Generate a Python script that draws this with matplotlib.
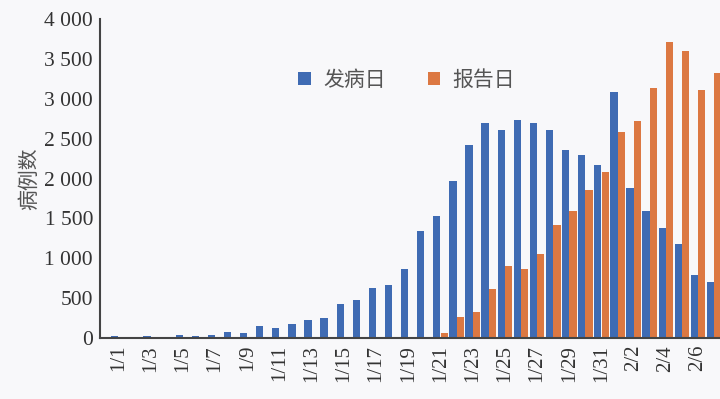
import numpy as np
import matplotlib
matplotlib.use("Agg")
import matplotlib.pyplot as plt

# daily case counts, 1/1 to 2/7

dates = [f"1/{d}" for d in range(1, 32)] + [f"2/{d}" for d in range(1, 8)]

onset = [20, 12, 22, 12, 35, 22, 32, 75, 58, 150,
         128, 175, 225, 250, 425, 475, 630, 665, 860, 1340,
         1530, 1970, 2420, 2695, 2608, 2733, 2695, 2608, 2358, 2296,
         2170, 3087, 1880, 1590, 1383, 1183, 787, 705]

report = [0, 0, 0, 0, 0, 0, 0, 0, 0, 0,
          0, 0, 0, 0, 0, 0, 0, 0, 0, 0,
          67, 258, 330, 612, 908, 870, 1050, 1420, 1595, 1858,
          2080, 2580, 2717, 3133, 3717, 3600, 3108, 3320]

y_ticks = [0, 500, 1000, 1500, 2000, 2500, 3000, 3500, 4000]
y_labels = ["0", "500", "1 000", "1 500", "2 000", "2 500", "3 000", "3 500", "4 000"]

#%%

blue = "#3f6bb3"
orange = "#dc7842"
bg = "#f8f8fa"

fig = plt.figure(figsize=(7.2, 3.99), dpi=100, facecolor=bg)
ax = fig.add_axes([100/720, 61/399, 620/720, 319/399])
ax.set_facecolor(bg)

x = np.arange(len(dates))
w = 0.45
ax.bar(x - 0.23, onset, width=w, color=blue, label="发病日")
ax.bar(x + 0.23, report, width=w, color=orange, label="报告日")

ax.set_xlim(-1.15, (720 - 118.5) / 16.1)
ax.set_ylim(0, 4000)

ax.set_yticks(y_ticks)
ax.set_yticklabels(y_labels, family="Liberation Serif", fontsize=15.5, color="#333333")
ax.set_xticks(x[::2])
ax.set_xticklabels(dates[::2], rotation=90, family="Liberation Serif",
                   fontsize=15, color="#333333", va="top", ha="center")
ax.tick_params(axis="both", length=0, pad=5)

for s in ["top", "right"]:
    ax.spines[s].set_visible(False)
for s in ["left", "bottom"]:
    ax.spines[s].set_color("#444444")
    ax.spines[s].set_linewidth(1.5)

ax.set_ylabel("病例数", family=["Noto Sans CJK SC", "DejaVu Sans"], fontsize=15,
              color="#555555", labelpad=3)

leg = ax.legend(loc="center", bbox_to_anchor=(0.495, 0.81), ncol=2, frameon=False,
                prop={"family": ["Noto Sans CJK SC", "DejaVu Sans"], "size": 15},
                handlelength=0.6, handleheight=0.6, columnspacing=2.0, handletextpad=0.6)
for t in leg.get_texts():
    t.set_color("#555555")

fig.savefig("out.png", dpi=100, facecolor=bg)
